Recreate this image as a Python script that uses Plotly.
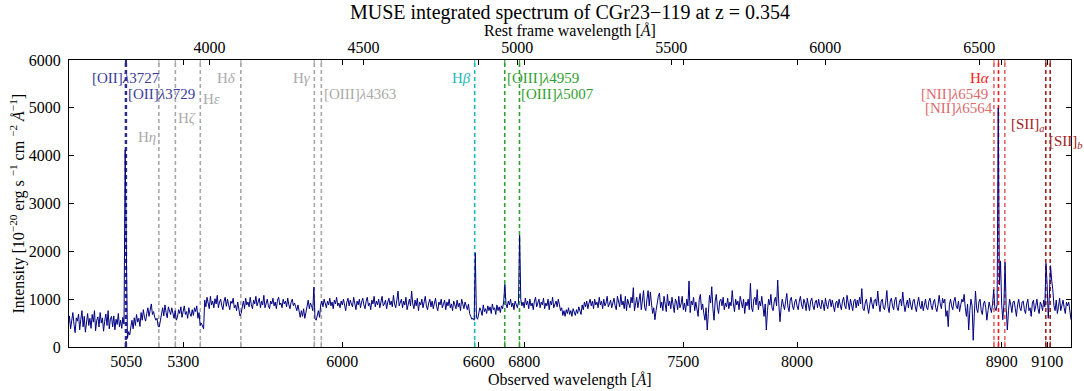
import plotly.graph_objects as go

# ---------------- data ----------------
z = 0.354
wave_start = 4795   # observed wavelength of first flux sample [A]
wave_step = 5       # sampling step [A]

flux = [
    430, 650, 380, 560, 720, 470, 300, 610, 540, 690,        # 4795-4840
    360, 580, 760, 420, 640, 310, 520, 700, 450, 600,        # 4845-4890
    390, 680, 520, 760, 340, 560, 630, 420, 720, 500,        # 4895-4940
    610, 330, 540, 690, 450, 760, 380, 590, 640, 420,        # 4945-4990
    650, 360, 580, 470, 700, 420, 560, 390, 620, 480,        # 4995-5040
    4120, 2200, 180, 320, 250, 420, 560, 380, 610, 450,      # 5045-5090
    680, 520, 600, 430, 720, 560, 780, 620, 540, 700,        # 5095-5140
    820, 640, 760, 900, 680, 740, 620, 560, 600, 430,        # 5145-5190
    420, 560, 700, 820, 650, 880, 720, 610, 840, 760,        # 5195-5240
    680, 820, 700, 600, 760, 560, 620, 780, 700, 840,        # 5245-5290
    620, 760, 860, 680, 740, 600, 820, 700, 640, 780,        # 5295-5340
    660, 820, 740, 860, 600, 720, 450, 500, 420, 380,        # 5345-5390
    980, 840, 1040, 900, 800, 1060, 880, 960, 820, 1010,     # 5395-5440
    900, 1080, 820, 940, 1000, 860, 780, 960, 1040, 850,     # 5445-5490
    1000, 880, 780, 960, 910, 1020, 820, 880, 760, 940,      # 5495-5540
    820, 650, 700, 880, 960, 800, 1020, 880, 940, 840,       # 5545-5590
    1040, 880, 800, 980, 900, 1060, 860, 940, 1020, 820,     # 5595-5640
    960, 880, 1080, 820, 920, 1000, 860, 800, 960, 900,      # 5645-5690
    1020, 860, 940, 800, 980, 1040, 880, 920, 820, 1000,     # 5695-5740
    900, 960, 840, 1020, 880, 800, 940, 1000, 860, 920,      # 5745-5790
    840, 760, 880, 700, 620, 760, 640, 800, 600, 720,        # 5795-5840
    860, 980, 800, 920, 860, 760, 1250, 600, 560, 680,       # 5845-5890
    760, 620, 880, 960, 840, 1000, 900, 820, 960, 880,       # 5895-5940
    1020, 860, 940, 800, 980, 900, 1040, 860, 920, 820,      # 5945-5990
    960, 880, 1000, 820, 760, 940, 1020, 860, 980, 900,      # 5995-6040
    840, 1040, 900, 780, 960, 880, 1000, 820, 940, 1020,     # 6045-6090
    880, 800, 960, 1040, 860, 920, 780, 980, 900, 1060,      # 6095-6140
    840, 960, 880, 1000, 820, 940, 1060, 860, 900, 980,      # 6145-6190
    800, 940, 1020, 880, 960, 840, 1080, 900, 820, 980,      # 6195-6240
    1170, 860, 940, 1000, 820, 960, 880, 1040, 780, 920,     # 6245-6290
    1000, 860, 1170, 900, 800, 980, 860, 1020, 760, 940,     # 6295-6340
    880, 1000, 820, 940, 1060, 860, 780, 920, 1000, 840,     # 6345-6390
    960, 800, 900, 1020, 840, 760, 940, 880, 1000, 820,      # 6395-6440
    900, 980, 780, 940, 860, 1000, 820, 900, 760, 960,       # 6445-6490
    880, 800, 980, 840, 920, 760, 1000, 860, 800, 940,       # 6495-6540
    860, 780, 900, 700, 640, 580, 600, 560, 1970, 620,       # 6545-6590
    580, 700, 820, 760, 660, 880, 740, 800, 700, 860,        # 6595-6640
    760, 840, 700, 900, 780, 820, 680, 880, 760, 840,        # 6645-6690
    720, 860, 800, 960, 1310, 900, 820, 960, 880, 1000,      # 6695-6740
    840, 920, 780, 960, 880, 820, 940, 2340, 1000, 860,      # 6745-6790
    940, 820, 1020, 880, 960, 800, 1000, 860, 920, 780,      # 6795-6840
    960, 1040, 840, 900, 1000, 820, 940, 880, 1020, 800,     # 6845-6890
    920, 860, 1000, 780, 960, 880, 1040, 820, 900, 960,      # 6895-6940
    840, 1000, 880, 760, 820, 660, 760, 640, 780, 700,       # 6945-6990
    820, 680, 760, 640, 800, 720, 660, 780, 700, 840,        # 6995-7040
    760, 680, 880, 780, 940, 840, 960, 800, 920, 1000,       # 7045-7090
    860, 960, 800, 1000, 880, 940, 820, 1040, 880, 960,      # 7095-7140
    800, 1000, 860, 920, 1060, 840, 900, 980, 820, 940,      # 7145-7190
    1020, 860, 780, 1060, 920, 840, 1100, 880, 960, 800,     # 7195-7240
    1060, 760, 1000, 880, 820, 1040, 920, 1240, 760, 900,    # 7245-7290
    1040, 820, 960, 1120, 780, 940, 1180, 820, 760, 1000,    # 7295-7340
    1180, 860, 1150, 900, 700, 820, 570, 760, 960, 1060,     # 7345-7390
    1130, 820, 940, 760, 1060, 900, 740, 1100, 860, 960,     # 7395-7440
    800, 1040, 880, 720, 1000, 940, 780, 1060, 820, 900,     # 7445-7490
    1060, 780, 920, 740, 1000, 860, 1380, 720, 960, 880,     # 7495-7540
    1040, 760, 940, 820, 640, 1000, 1100, 780, 900, 700,     # 7545-7590
    560, 820, 355, 700, 1080, 920, 1260, 800, 560, 960,      # 7595-7640
    1100, 820, 700, 960, 1000, 860, 1040, 780, 920, 840,     # 7645-7690
    1020, 800, 940, 860, 1180, 900, 740, 1000, 880, 960,     # 7695-7740
    780, 1060, 900, 820, 1000, 700, 940, 860, 1000, 780,     # 7745-7790
    1330, 820, 740, 1000, 1040, 880, 1200, 780, 960, 860,    # 7795-7840
    1060, 800, 640, 900, 355, 760, 1000, 880, 1100, 820,     # 7845-7890
    760, 960, 1040, 860, 1400, 900, 530, 820, 1000, 880,     # 7895-7940
    780, 960, 1120, 840, 740, 980, 1040, 860, 780, 940,      # 7945-7990
    1000, 860, 780, 960, 1060, 880, 800, 1000, 920, 760,     # 7995-8040
    1020, 880, 760, 960, 1020, 860, 780, 940, 980, 820,      # 8045-8090
    1000, 860, 800, 980, 900, 760, 1020, 880, 800, 960,      # 8095-8140
    1000, 840, 980, 860, 740, 920, 960, 820, 1000, 880,      # 8145-8190
    780, 960, 1040, 860, 800, 1080, 900, 780, 1000, 860,     # 8195-8240
    760, 960, 1000, 820, 980, 860, 1040, 900, 1220, 800,     # 8245-8290
    760, 920, 1000, 840, 700, 880, 1040, 900, 800, 980,      # 8295-8340
    1000, 860, 1170, 900, 740, 960, 1000, 820, 780, 940,     # 8345-8390
    1180, 840, 720, 960, 1020, 860, 780, 980, 1040, 820,     # 8395-8440
    760, 940, 1000, 860, 1150, 900, 740, 880, 980, 820,      # 8445-8490
    1020, 880, 780, 960, 1000, 840, 740, 920, 1040, 860,     # 8495-8540
    800, 960, 760, 880, 1000, 820, 780, 960, 1020, 860,      # 8545-8590
    780, 940, 1000, 820, 740, 880, 1080, 900, 800, 1020,     # 8595-8640
    920, 1000, 640, 760, 425, 880, 1000, 860, 780, 960,      # 8645-8690
    1040, 860, 800, 960, 740, 880, 1000, 940, 1100, 820,     # 8695-8740
    640, 900, 355, 760, 1000, 860, 140, 700, 1170, 800,      # 8745-8790
    720, 940, 1000, 760, 680, 900, 960, 820, 560, 760,       # 8795-8840
    940, 820, 720, 900, 1200, 820, 760, 880, 5000, 1300,     # 8845-8890
    1800, 900, 570, 900, 1770, 800, 355, 760, 1000, 880,     # 8895-8940
    720, 940, 960, 800, 640, 880, 1000, 820, 760, 940,       # 8945-8990
    960, 780, 700, 900, 1000, 760, 820, 640, 920, 980,       # 8995-9040
    740, 860, 1000, 800, 700, 940, 880, 760, 980, 840,       # 9045-9090
    1750, 1300, 600, 1100, 1700, 1400, 1200, 860, 760, 980,  # 9095-9140
    700, 840, 1020, 760, 900, 980, 820, 700, 940, 860,       # 9145-9190
    940, 720, 570,                                           # 9195-9205
]
wave = [wave_start + wave_step * i for i in range(len(flux))]

# emission / absorption lines (rest-frame wavelengths, A)
line_keys = ["OII3727", "OII3729", "Heta", "Hzeta", "Heps", "Hdelta", "Hgamma",
             "OIII4363", "Hbeta", "OIII4959", "OIII5007", "NII6549", "Halpha",
             "NII6584", "SII6717", "SII6731"]
line_rest = [3727.09, 3729.88, 3835.38, 3889.05, 3970.07, 4101.73, 4340.46,
             4363.21, 4861.33, 4958.91, 5006.84, 6548.05, 6562.80,
             6583.45, 6716.44, 6730.82]
line_colors = ["#2a2a92", "#2a2a92", "#a8a8a8", "#a8a8a8", "#a8a8a8", "#a8a8a8", "#a8a8a8",
               "#a8a8a8", "#22b8b8", "#30a030", "#30a030", "#e06868", "#ff1a1a",
               "#e06868", "#a52020", "#a52020"]

# line labels: text, anchor line, label height (flux units), anchor side, colour, pixel shift
label_texts = ["[OII]<i>λ</i>3727", "[OII]<i>λ</i>3729", "H<i>η</i>", "H<i>ζ</i>", "H<i>ε</i>",
               "H<i>δ</i>", "H<i>γ</i>", "[OIII]<i>λ</i>4363", "H<i>β</i>", "[OIII]<i>λ</i>4959",
               "[OIII]<i>λ</i>5007", "H<i>α</i>", "[NII]<i>λ</i>6549", "[NII]<i>λ</i>6564",
               "[SII]<sub><i>a</i></sub>", "[SII]<sub><i>b</i></sub>"]
label_lines = ["OII3727", "OII3729", "Heta", "Hzeta", "Heps", "Hdelta", "Hgamma",
               "OIII4363", "Hbeta", "OIII4959", "OIII5007", "Halpha", "NII6549", "NII6584",
               "NII6584", "SII6717"]
label_y = [5620, 5280, 4390, 4790, 5190, 5620, 5620, 5280, 5620, 5620,
           5280, 5620, 5280, 4990, 4640, 4290]
label_anchor = ["center", "left", "right", "left", "left", "right", "right", "left", "right", "left",
                "left", "right", "right", "right", "left", "left"]
label_colors = ["#3b3b9b", "#3b3b9b", "#aaaaaa", "#aaaaaa", "#aaaaaa", "#aaaaaa", "#aaaaaa",
                "#aaaaaa", "#22b8b8", "#30a030", "#30a030", "#ff1a1a", "#dd6b6b", "#dd6b6b",
                "#a52020", "#a52020"]
label_dx = [0, 0, -1, 1, 1, -3, -1, 1, -2, 0, 0, -6, -4, -10, 4, 1]

bottom_ticks = [5050, 5300, 6000, 6600, 6800, 7500, 8000, 8900, 9100]
top_ticks = [4000, 4500, 5000, 5500, 6000, 6500]
y_ticks = [0, 1000, 2000, 3000, 4000, 5000, 6000]
x_range = [4798, 9205]
y_range = [0, 6000]

# ---------------- figure ----------------
FONT = "Liberation Serif, Times New Roman, serif"
fig = go.Figure()

fig.add_trace(go.Scatter(x=wave, y=flux, mode="lines",
                         line=dict(color="#000080", width=1),
                         showlegend=False, hoverinfo="skip"))
# dummy trace to activate the rest-frame axis
fig.add_trace(go.Scatter(x=[x_range[0] / (1 + z), x_range[1] / (1 + z)], y=[None, None],
                         xaxis="x2", mode="markers", marker=dict(opacity=0),
                         showlegend=False, hoverinfo="skip"))

obs = {k: r * (1 + z) for k, r in zip(line_keys, line_rest)}
shapes = []
for k, c in zip(line_keys, line_colors):
    shapes.append(dict(type="line", xref="x", yref="y domain", x0=obs[k], x1=obs[k],
                       y0=0, y1=1, line=dict(color=c, width=1.6, dash="4px,3px"), layer="below"))
    shapes.append(dict(type="line", xref="x", yref="y domain", x0=obs[k], x1=obs[k],
                       y0=0, y1=0.02, line=dict(color=c, width=1.2)))
    shapes.append(dict(type="line", xref="x", yref="y domain", x0=obs[k], x1=obs[k],
                       y0=0.98, y1=1, line=dict(color=c, width=1.2)))

annotations = []
for t, k, yv, a, c, dx in zip(label_texts, label_lines, label_y, label_anchor, label_colors, label_dx):
    annotations.append(dict(x=obs[k], y=yv, xref="x", yref="y", text=t, showarrow=False,
                            xanchor=a, yanchor="middle", xshift=dx,
                            font=dict(family=FONT, size=15, color=c)))

annotations += [
    dict(x=0.5, y=1, xref="paper", yref="paper", yshift=48, xanchor="center", yanchor="middle",
         text="MUSE integrated spectrum of CGr23−119 at z = 0.354", showarrow=False,
         font=dict(family=FONT, size=20, color="black")),
    dict(x=0.5, y=1, xref="paper", yref="paper", yshift=29, xanchor="center", yanchor="middle",
         text="Rest frame wavelength [<i>Å</i>]", showarrow=False,
         font=dict(family=FONT, size=16, color="black")),
    dict(x=0.5, y=0, xref="paper", yref="paper", yshift=-33, xanchor="center", yanchor="middle",
         text="Observed wavelength [<i>Å</i>]", showarrow=False,
         font=dict(family=FONT, size=16, color="black")),
    dict(x=0, y=0.5, xref="paper", yref="paper", xshift=-51, xanchor="center", yanchor="middle",
         textangle=-90, showarrow=False,
         text="Intensity [10<sup>−20</sup> erg s <sup>−1</sup> cm <sup>−2</sup> <i>Å</i><sup>−1</sup>]",
         font=dict(family=FONT, size=16, color="black")),
]

axis_common = dict(showgrid=False, zeroline=False, showline=True, linecolor="black", linewidth=1,
                   ticks="inside", ticklen=5, tickcolor="black", tickwidth=1,
                   tickfont=dict(family=FONT, size=16, color="black"))

fig.update_layout(
    width=1084, height=391,
    margin=dict(l=69, r=13, t=60, b=44),
    paper_bgcolor="white", plot_bgcolor="white",
    shapes=shapes, annotations=annotations,
    xaxis=dict(range=x_range, tickmode="array", tickvals=bottom_ticks,
               ticktext=[str(v) for v in bottom_ticks], mirror="ticks", **axis_common),
    xaxis2=dict(range=[x_range[0] / (1 + z), x_range[1] / (1 + z)], overlaying="x", side="top",
                tickmode="array", tickvals=top_ticks, ticktext=[str(v) for v in top_ticks],
                anchor="y", **axis_common),
    yaxis=dict(range=y_range, tickmode="array", tickvals=y_ticks,
               ticktext=[str(v) for v in y_ticks], mirror="ticks", ticklabelstandoff=4,
               **axis_common),
)

fig.write_html("out.html")
